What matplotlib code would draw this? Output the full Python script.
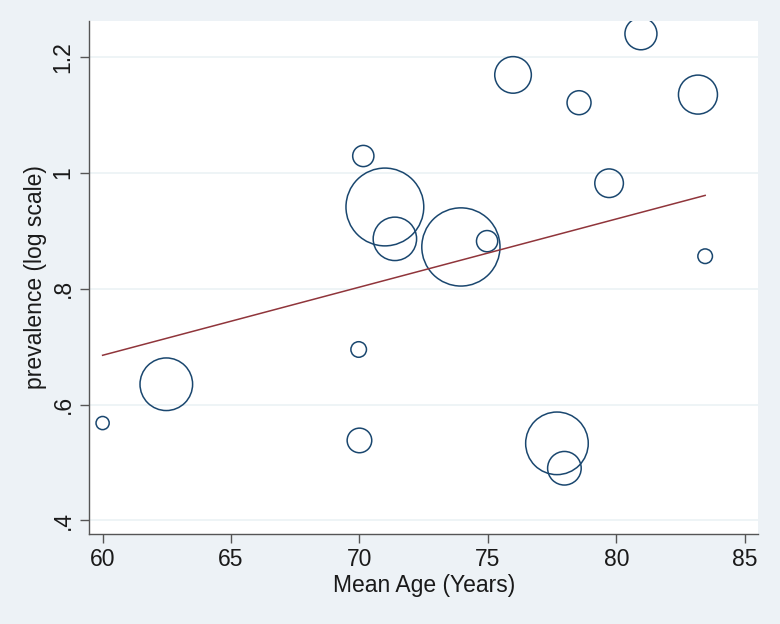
import numpy as np
import matplotlib.pyplot as plt

# study-level data
mean_age = [60.0, 62.48, 69.97, 70.0, 70.15, 70.99, 71.38, 73.95, 74.97,
            75.98, 77.69, 77.98, 78.55, 79.72, 80.96, 83.18, 83.46]
prevalence = [0.568, 0.635, 0.695, 0.538, 1.029, 0.941, 0.886, 0.872, 0.882,
              1.169, 0.533, 0.490, 1.121, 0.982, 1.240, 1.135, 0.856]
weight = [53, 729, 72, 169, 128, 1568, 502, 1584, 128,
          361, 1024, 306, 161, 225, 279, 408, 64]

# fitted line end points
fit_x = [60.0, 83.46]
fit_y = [0.685, 0.961]

xticks = [60, 65, 70, 75, 80, 85]
yticks = [0.4, 0.6, 0.8, 1.0, 1.2]
ylabels = ['.4', '.6', '.8', '1', '1.2']

bg = '#edf2f6'
navy = '#1a476f'
maroon = '#90353b'

plt.rcParams['font.family'] = ['Liberation Sans', 'DejaVu Sans']

fig = plt.figure(figsize=(7.8, 6.24), dpi=100, facecolor=bg)
ax = fig.add_axes([0.1141, 0.1447, 0.8581, 0.8216])
ax.set_facecolor('white')

# bubble radius in px -> marker area in pt^2
r_px = np.sqrt(np.array(weight, dtype=float)) - 0.7
sizes = (2 * r_px * 0.72) ** 2
ax.scatter(mean_age, prevalence, s=sizes, facecolors='none',
           edgecolors=navy, linewidths=1.1, zorder=3)
ax.plot(fit_x, fit_y, color=maroon, lw=1.1, zorder=4)

ax.set_xlim(59.47, 85.53)
ax.set_ylim(0.377, 1.262)
ax.set_xticks(xticks)
ax.set_yticks(yticks)
ax.set_yticklabels(ylabels, rotation=90, va='center')
ax.grid(axis='y', color='#edf3f6', lw=1.3)
ax.set_axisbelow(True)

for s in ['top', 'right']:
    ax.spines[s].set_visible(False)
for s in ['left', 'bottom']:
    ax.spines[s].set_color('#555555')
    ax.spines[s].set_linewidth(1.0)
ax.tick_params(direction='out', length=6.5, width=1.0, color='#555555',
               labelsize=16.5, labelcolor='#1a1a1a', pad=4)

ax.set_xlabel('Mean Age (Years)', fontsize=16.5, color='#1a1a1a', labelpad=2)
ax.set_ylabel('prevalence (log scale)', fontsize=16.5, color='#1a1a1a', labelpad=3)

fig.savefig('out.png', dpi=100, facecolor=bg)
